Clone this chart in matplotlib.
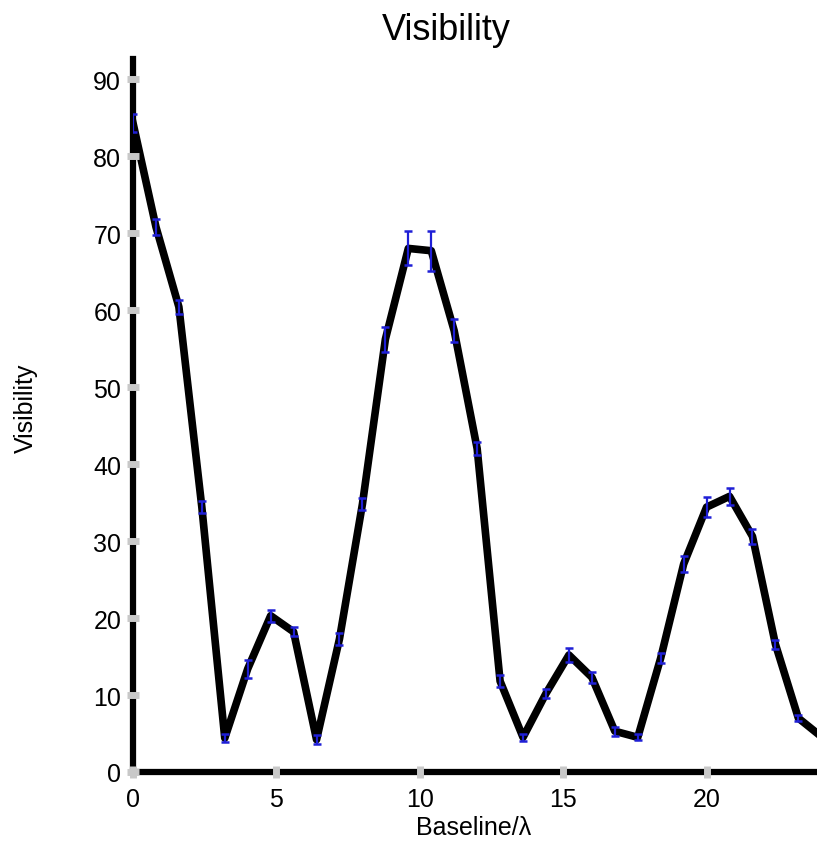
import matplotlib
matplotlib.use('Agg')
import matplotlib.pyplot as plt

plt.rcParams['font.family'] = ['Liberation Sans', 'DejaVu Sans']

baseline = [0.0, 0.8, 1.6, 2.4, 3.2, 4.0, 4.8, 5.6, 6.4, 7.2, 8.0, 8.8, 9.6, 10.4, 11.2,
            12.0, 12.8, 13.6, 14.4, 15.2, 16.0, 16.8, 17.6, 18.4, 19.2, 20.0, 20.8,
            21.6, 22.4, 23.2, 24.0]
visibility = [84.3, 70.8, 60.4, 34.4, 4.4, 13.4, 20.3, 18.2, 4.2, 17.3, 34.8, 56.2, 68.0,
              67.7, 57.3, 42.0, 11.8, 4.5, 10.2, 15.2, 12.3, 5.3, 4.5, 14.8, 27.0, 34.4,
              35.8, 30.6, 16.6, 7.0, 4.6]
err = [1.2, 1.0, 0.9, 0.8, 0.5, 1.2, 0.8, 0.6, 0.6, 0.8, 0.8, 1.6, 2.2, 2.6, 1.5,
       0.8, 0.8, 0.5, 0.6, 0.9, 0.7, 0.6, 0.4, 0.6, 1.0, 1.3, 1.1, 1.0, 0.6, 0.4, 0.4]

fig = plt.figure(figsize=(8.17, 8.45), dpi=100)
ax = fig.add_axes([133/817, 1 - 773/845, 1 - 133/817, (773 - 60)/845])

ax.plot(baseline, visibility, color='black', lw=5.5, zorder=3)
# error bars sit on top of the black line
ax.errorbar(baseline, visibility, yerr=err, fmt='none', ecolor='#1f1fd6',
            elinewidth=1.6, capsize=3, capthick=1.8, zorder=4)

ax.set_xlim(0, 23.85)
ax.set_ylim(0, 92.6)
ax.set_xticks([0, 5, 10, 15, 20])
ax.set_yticks(range(0, 91, 10))

for s in ['top', 'right']:
    ax.spines[s].set_visible(False)
for s in ['left', 'bottom']:
    ax.spines[s].set_linewidth(4.5)
    ax.spines[s].set_zorder(2)
ax.xaxis.set_zorder(6)
ax.yaxis.set_zorder(6)
ax.tick_params(direction='inout', length=9, width=5, color='#c8c8c8',
               labelsize=18, pad=4)
ax.tick_params(axis='x', pad=6)

fig.text(474/817, 1 - 828/845, 'Baseline/λ', fontsize=18, ha='center', va='center')
fig.text(26/817, 1 - 408/845, 'Visibility', fontsize=18, rotation=90,
         ha='center', va='center')
fig.text(446/817, 1 - 30/845, 'Visibility', fontsize=26, ha='center', va='center')

fig.savefig('out.png', dpi=100)
